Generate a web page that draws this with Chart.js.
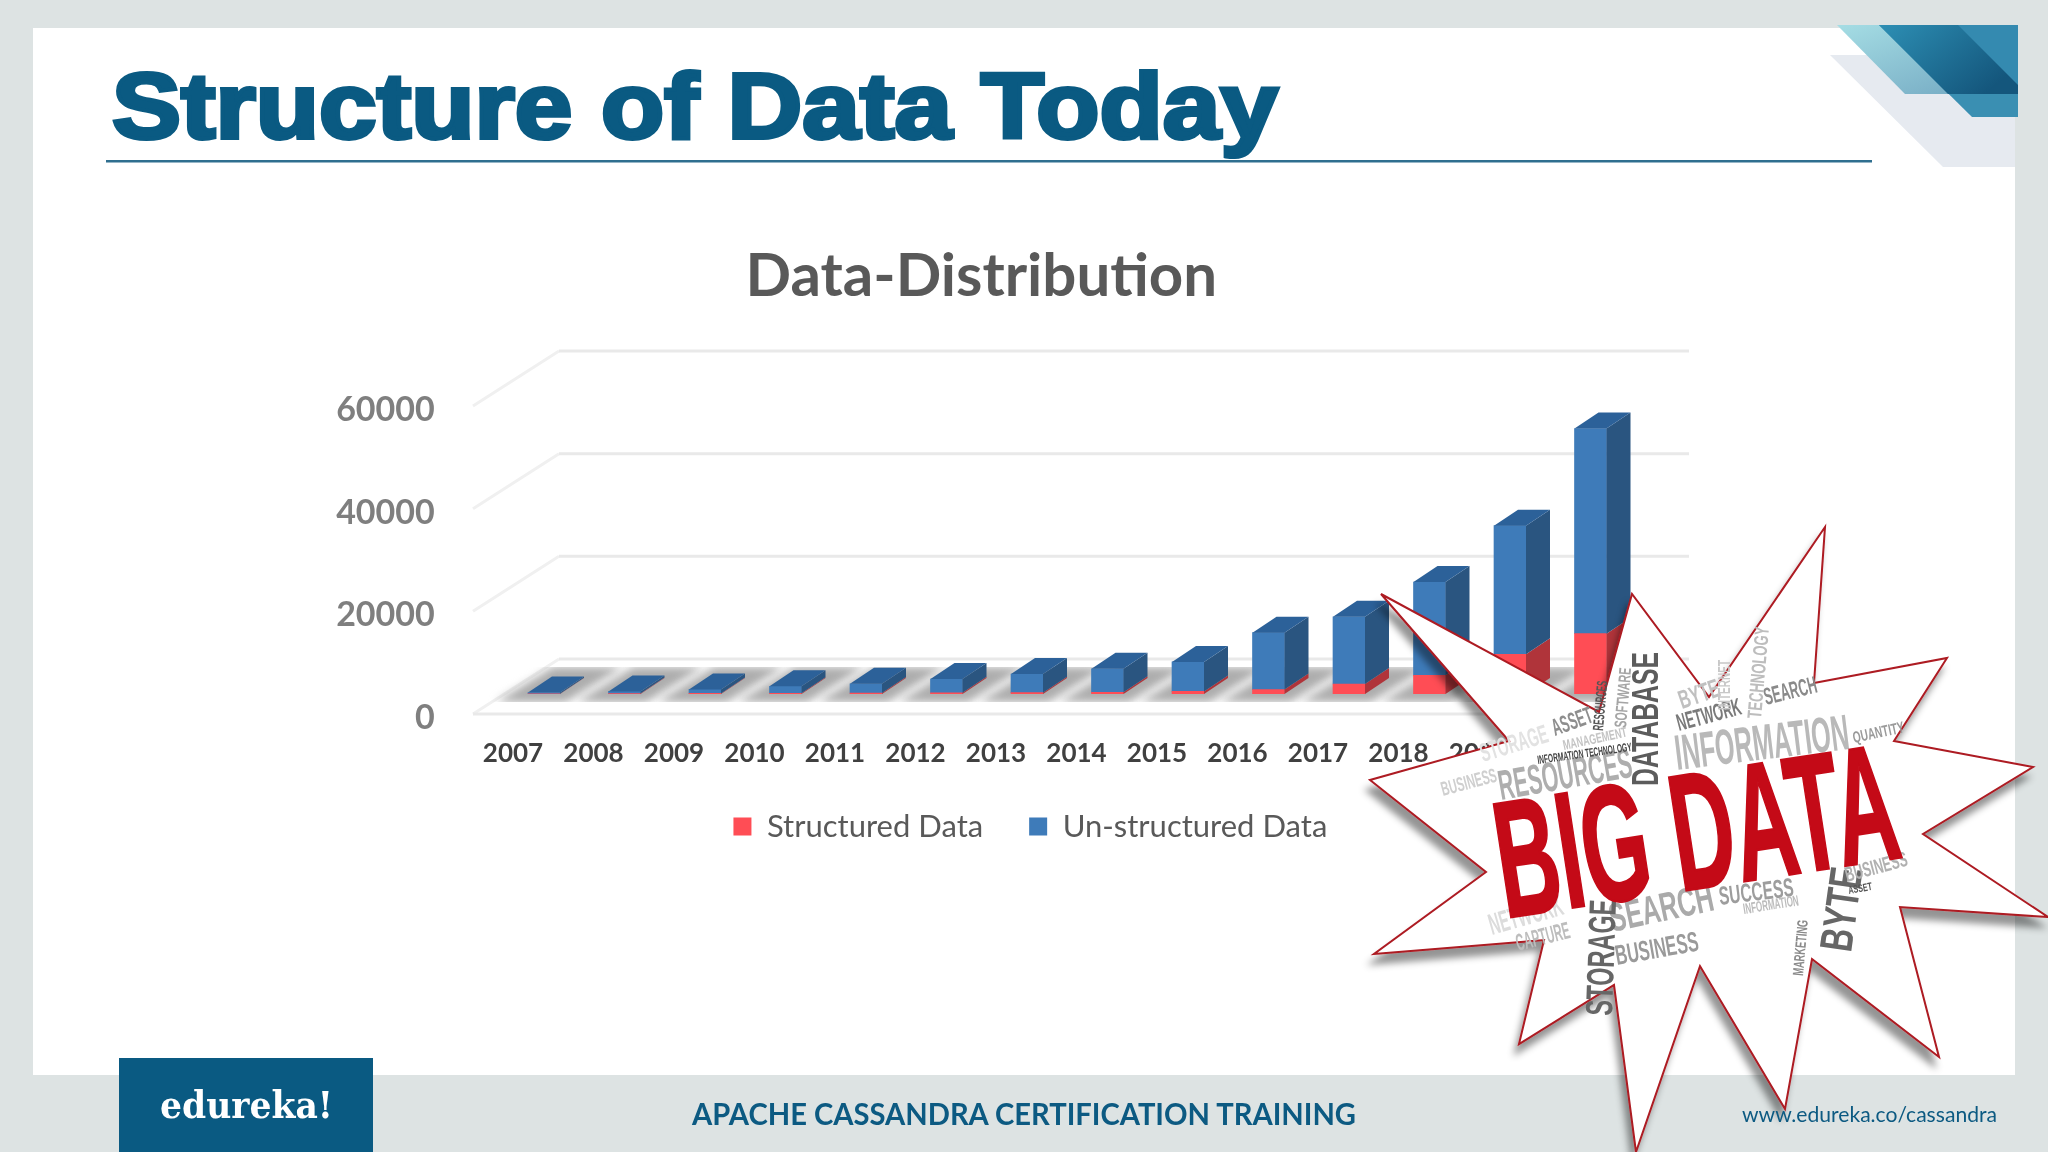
<!DOCTYPE html>
<html>
<head>
<meta charset="utf-8">
<title>Structure of Data Today</title>
<script src="https://cdn.jsdelivr.net/npm/chart.js@4"></script>
<style>
  html, body { margin: 0; width: 2048px; height: 1152px; overflow: hidden; background: #dde3e3; }
  #card { position: absolute; left: 33px; top: 28px; width: 1982px; height: 1047px; background: #fff; }
  #chart { position: absolute; left: 0; top: 0; }
  #slide { position: absolute; left: 0; top: 0; pointer-events: none; }
</style>
</head>
<body>
<div id="card"></div>
<canvas id="chart" width="1962" height="871"></canvas>

<svg id="slide" width="2048" height="1152" viewBox="0 0 2048 1152">
  <defs>
    <linearGradient id="tealLight" x1="0" y1="0" x2="1" y2="1">
      <stop offset="0" stop-color="#a5dde4"/><stop offset="1" stop-color="#6fa4bf"/>
    </linearGradient>
    <linearGradient id="tealDark" x1="0" y1="0" x2="1" y2="0.6">
      <stop offset="0" stop-color="#2d8fb4"/><stop offset="1" stop-color="#14567c"/>
    </linearGradient>
    <filter id="burstShadow" x="-10%" y="-10%" width="120%" height="120%">
      <feDropShadow dx="-4" dy="10" stdDeviation="3.5" flood-color="#000" flood-opacity="0.42"/>
    </filter>
  </defs>

  <!-- corner decoration -->
  <polygon points="1830,55 1943,167 2015,167 2015,55" fill="#e6eaf0"/>
  <polygon points="1837,25 1905,94 2018,94 2018,25" fill="url(#tealLight)"/>
  <polygon points="1879,25 1972,117 2018,117 2018,25" fill="#3a8fb2"/>
  <polygon points="1879,25 1948,94 2018,94 2018,25" fill="url(#tealDark)"/>
  <polygon points="1958,25 2018,85 2018,25" fill="#348ab0"/>

  <!-- heading -->
  <text x="112" y="138" font-family="Liberation Sans" font-weight="700" font-size="92" fill="#0a5a82"
        stroke="#0a5a82" stroke-width="4" textLength="1166" lengthAdjust="spacingAndGlyphs">Structure of Data Today</text>
  <rect x="106" y="160" width="1766" height="2.5" fill="#2f6f8f"/>

  <!-- big data burst -->
  <polygon filter="url(#burstShadow)" fill="#fff" stroke="#ad1a22" stroke-width="2" stroke-linejoin="miter"
    points="1381,594 1599,712 1632,594 1709,697 1825,527 1814,683 1947,658 1894,741 2033,767 1923,834 2048,917 1900,907 1939,1057 1812,959 1785,1109 1700,966 1636,1152 1614,985 1519,1044 1544,940 1374,954 1486,872 1370,780 1509,741"/>

  <g font-family="Liberation Sans Narrow, Liberation Sans" font-weight="700">
    <text transform="translate(1483 762) rotate(-17)" font-size="26" fill="#e2e2e2" textLength="70" lengthAdjust="spacingAndGlyphs">STORAGE</text>
    <text transform="translate(1443 796) rotate(-15)" font-size="20" fill="#cfcfcf" textLength="57" lengthAdjust="spacingAndGlyphs">BUSINESS</text>
    <text transform="translate(1501 800) rotate(-10)" font-size="42" fill="#aeaeae" textLength="135" lengthAdjust="spacingAndGlyphs">RESOURCES</text>
    <text transform="translate(1555 736) rotate(-20)" font-size="24" fill="#8e8e8e" textLength="42" lengthAdjust="spacingAndGlyphs">ASSET</text>
    <text transform="translate(1564 750) rotate(-12)" font-size="14" fill="#c4c4c4" textLength="65" lengthAdjust="spacingAndGlyphs">MANAGEMENT</text>
    <text transform="translate(1538 764) rotate(-8)" font-size="12" fill="#444" textLength="95" lengthAdjust="spacingAndGlyphs">INFORMATION TECHNOLOGY</text>
    <text transform="translate(1603 731) rotate(-85)" font-size="15" fill="#555" textLength="50" lengthAdjust="spacingAndGlyphs">RESOURCES</text>
    <text transform="translate(1626 728) rotate(-85)" font-size="17" fill="#a5a5a5" textLength="60" lengthAdjust="spacingAndGlyphs">SOFTWARE</text>
    <text transform="translate(1658 786) rotate(-90)" font-size="36" fill="#5c5c5c" textLength="134" lengthAdjust="spacingAndGlyphs">DATABASE</text>
    <text transform="translate(1682 709) rotate(-19)" font-size="26" fill="#c0c0c0" textLength="42" lengthAdjust="spacingAndGlyphs">BYTE</text>
    <text transform="translate(1679 731) rotate(-15)" font-size="24" fill="#7a7a7a" textLength="66" lengthAdjust="spacingAndGlyphs">NETWORK</text>
    <text transform="translate(1730 710) rotate(-90)" font-size="17" fill="#c8c8c8" textLength="50" lengthAdjust="spacingAndGlyphs">INTERNET</text>
    <text transform="translate(1761 719) rotate(-85)" font-size="20" fill="#bdbdbd" textLength="92" lengthAdjust="spacingAndGlyphs">TECHNOLOGY</text>
    <text transform="translate(1766 705) rotate(-14)" font-size="24" fill="#8a8a8a" textLength="54" lengthAdjust="spacingAndGlyphs">SEARCH</text>
    <text transform="translate(1677 770) rotate(-7)" font-size="50" fill="#b9b9b9" textLength="175" lengthAdjust="spacingAndGlyphs">INFORMATION</text>
    <text transform="translate(1854 743) rotate(-12)" font-size="16" fill="#9a9a9a" textLength="52" lengthAdjust="spacingAndGlyphs">QUANTITY</text>
    <text transform="translate(1612 932) rotate(-12)" font-size="40" fill="#aaaaaa" textLength="106" lengthAdjust="spacingAndGlyphs">SEARCH</text>
    <text transform="translate(1617 965) rotate(-10)" font-size="28" fill="#9a9a9a" textLength="84" lengthAdjust="spacingAndGlyphs">BUSINESS</text>
    <text transform="translate(1720 905) rotate(-7)" font-size="26" fill="#9d9d9d" textLength="75" lengthAdjust="spacingAndGlyphs">SUCCESS</text>
    <text transform="translate(1744 914) rotate(-9)" font-size="15" fill="#bcbcbc" textLength="56" lengthAdjust="spacingAndGlyphs">INFORMATION</text>
    <text transform="translate(1612 1016) rotate(-88)" font-size="38" fill="#666" textLength="116" lengthAdjust="spacingAndGlyphs">STORAGE</text>
    <text transform="translate(1851 953) rotate(-82)" font-size="46" fill="#666" textLength="84" lengthAdjust="spacingAndGlyphs">BYTE</text>
    <text transform="translate(1847 882) rotate(-15)" font-size="21" fill="#b0b0b0" textLength="64" lengthAdjust="spacingAndGlyphs">BUSINESS</text>
    <text transform="translate(1849 894) rotate(-10)" font-size="11" fill="#555" textLength="24" lengthAdjust="spacingAndGlyphs">ASSET</text>
    <text transform="translate(1803 976) rotate(-85)" font-size="15" fill="#8a8a8a" textLength="56" lengthAdjust="spacingAndGlyphs">MARKETING</text>
    <text transform="translate(1492 935) rotate(-16)" font-size="30" fill="#dcdcdc" textLength="76" lengthAdjust="spacingAndGlyphs">NETWORK</text>
    <text transform="translate(1518 951) rotate(-14)" font-size="24" fill="#bdbdbd" textLength="55" lengthAdjust="spacingAndGlyphs">CAPTURE</text>
    <text transform="translate(1505 918) rotate(-8.7)" font-size="166" fill="#c40a17" stroke="#c40a17" stroke-width="2.5"
          textLength="404" lengthAdjust="spacingAndGlyphs">BIG DATA</text>
  </g>

  <!-- footer -->
  <rect x="119" y="1058" width="254" height="94" fill="#0a5a82"/>
  <text x="160" y="1118" font-family="DejaVu Serif" font-weight="700" font-size="38" fill="#fff"
        textLength="173" lengthAdjust="spacingAndGlyphs">edureka!</text>
  <text x="692" y="1125" font-family="Lato" font-weight="700" font-size="31" fill="#0c5a82"
        textLength="664" lengthAdjust="spacingAndGlyphs">APACHE CASSANDRA CERTIFICATION TRAINING</text>
  <text x="1742" y="1122" font-family="Lato" font-size="22" fill="#0c5a82"
        textLength="255" lengthAdjust="spacingAndGlyphs">www.edureka.co/cassandra</text>
</svg>

<script>
const years = ["2007", "2008", "2009", "2010", "2011", "2012", "2013", "2014", "2015", "2016", "2017", "2018", "2019", "2020"];
const structuredData = [50, 80, 120, 150, 180, 220, 260, 320, 500, 860, 1950, 3640, 7750, 11750];
const unstructuredData = [250, 420, 780, 1350, 1820, 2680, 3640, 4580, 5750, 11090, 13100, 18160, 25050, 39950];
const yTicks = [0, 20000, 40000, 60000];

const depthX = 24;
const depthY = -16;

function poly(ctx, pts, fill) {
  ctx.beginPath();
  ctx.moveTo(pts[0][0], pts[0][1]);
  pts.slice(1).forEach((p) => ctx.lineTo(p[0], p[1]));
  ctx.closePath();
  ctx.fillStyle = fill;
  ctx.fill();
}

// back wall lines, floor and the grey shadow strip behind the bars
const wallPlugin = {
  id: "wall",
  beforeDatasetsDraw(chart) {
    const ctx = chart.ctx;
    const x = chart.scales.x;
    const y = chart.scales.y;
    const backL = 559, backR = 1689, frontL = 473, frontR = 1603;

    ctx.save();
    ctx.lineWidth = 3;
    yTicks.forEach((v) => {
      const py = y.getPixelForValue(v);
      ctx.strokeStyle = "#f0f0f0";
      ctx.beginPath();
      ctx.moveTo(frontL, py + 20);
      ctx.lineTo(backL, py - 35);
      ctx.stroke();
      ctx.strokeStyle = "#e9e9e9";
      ctx.beginPath();
      ctx.moveTo(backL, py - 35);
      ctx.lineTo(backR, py - 35);
      ctx.stroke();
    });
    const zeroY = y.getPixelForValue(0);
    ctx.beginPath();
    ctx.moveTo(frontL, zeroY + 20);
    ctx.lineTo(frontR, zeroY + 20);
    ctx.stroke();

    ctx.beginPath();
    ctx.rect(frontL, zeroY - 27, backR - frontL, 35);
    ctx.clip();
    ctx.filter = "blur(4px)";
    years.forEach((_, i) => {
      const cx = x.getPixelForValue(i);
      const b = zeroY + 8, t = zeroY - 27;
      poly(ctx, [[cx - 48, b], [cx + 22, b], [cx + 79, t], [cx + 9, t]], "#adadad");
    });
    ctx.restore();
  },
  // side and top faces, from the bars chart.js laid out
  afterDatasetsDraw(chart) {
    const ctx = chart.ctx;
    const sideColors = ["#b0343a", "#2a5580"];
    const topColor = "#2c6199";
    ctx.save();
    chart.data.datasets.forEach((ds, d) => {
      chart.getDatasetMeta(d).data.forEach((bar) => {
        const r = bar.x + bar.width / 2;
        poly(ctx, [[r, bar.y], [r + depthX, bar.y + depthY], [r + depthX, bar.base + depthY], [r, bar.base]], sideColors[d]);
      });
    });
    chart.getDatasetMeta(1).data.forEach((bar) => {
      const l = bar.x - bar.width / 2, r = bar.x + bar.width / 2;
      poly(ctx, [[l, bar.y], [l + depthX, bar.y + depthY], [r + depthX, bar.y + depthY], [r, bar.y]], topColor);
    });
    ctx.restore();
  },
  // title and legend sit off the layout centre in the reference
  afterLayout(chart) {
    chart.titleBlock.left += 166;
    chart.titleBlock.right += 166;
    const legend = chart.legend;
    legend.left += 215;
    legend.right += 215;
    legend.top -= 19;
    legend.bottom -= 19;
  },
};

new Chart(document.getElementById("chart"), {
  type: "bar",
  data: {
    labels: years,
    datasets: [
      { label: "Structured Data", data: structuredData, backgroundColor: "#ff4d55", barThickness: 32 },
      { label: "Un-structured Data", data: unstructuredData, backgroundColor: "#3e7bb9", barThickness: 32 },
    ],
  },
  options: {
    responsive: false,
    animation: false,
    layout: { padding: { right: 331.25 } },
    scales: {
      x: {
        stacked: true,
        grid: { display: false },
        border: { display: false },
        afterFit: (s) => { s.height = 90; },
        ticks: {
          autoSkip: false,
          maxRotation: 0,
          padding: 36,
          labelOffset: -31,
          color: "#404040",
          font: { family: "Lato", size: 26, weight: "700" },
        },
      },
      y: {
        stacked: true,
        min: 0,
        max: 60000,
        grid: { display: false },
        border: { display: false },
        afterFit: (s) => { s.width = 503.75; },
        ticks: {
          stepSize: 20000,
          padding: 61,
          labelOffset: 24,
          color: "#7f7f7f",
          font: { family: "Lato", size: 34, weight: "700" },
          callback: (v) => String(v),
        },
      },
    },
    plugins: {
      tooltip: { enabled: false },
      title: {
        display: true,
        text: "Data-Distribution",
        color: "#595959",
        font: { family: "Lato", size: 60, weight: "700" },
        padding: { top: 241, bottom: 73 },
      },
      legend: {
        position: "bottom",
        labels: {
          boxWidth: 18,
          boxHeight: 18,
          padding: 46,
          color: "#595959",
          font: { family: "Lato", size: 31 },
        },
      },
    },
  },
  plugins: [wallPlugin],
});
</script>
</body>
</html>
